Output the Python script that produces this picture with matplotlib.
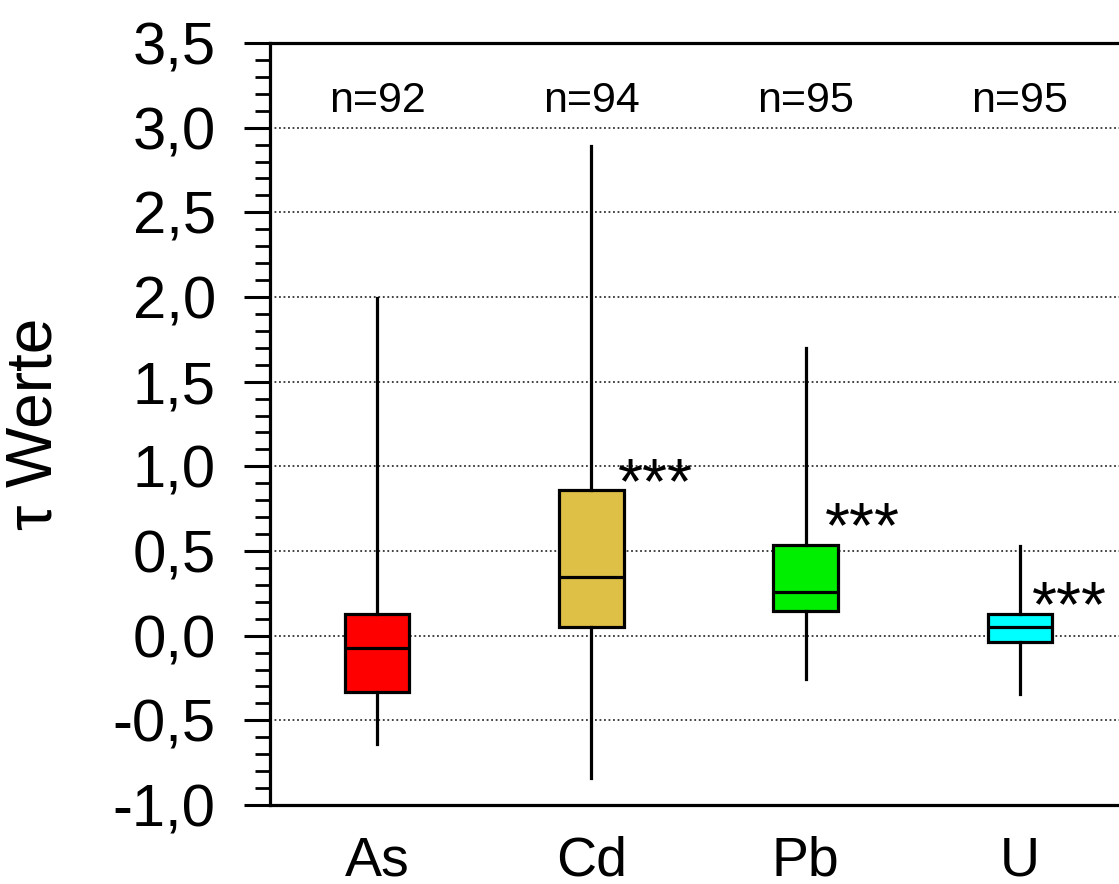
import matplotlib.pyplot as plt
from matplotlib.ticker import MultipleLocator, FuncFormatter

plt.rcParams['font.family'] = ['Liberation Sans', 'DejaVu Sans']

# data
elements = ['As', 'Cd', 'Pb', 'U']
counts = [92, 94, 95, 95]
whis_lo = [-0.637, -0.838, -0.253, -0.347]
q1 = [-0.331, 0.053, 0.148, -0.040]
median = [-0.075, 0.345, 0.256, 0.053]
q3 = [0.126, 0.858, 0.537, 0.126]
whis_hi = [1.994, 2.89, 1.70, 0.531]
significant = [False, True, True, True]
star_y = [0, 0.935, 0.675, 0.21]
colors = ['#FF0000', '#DFC046', '#00EE00', '#00FFFF']

fig = plt.figure(figsize=(11.19, 8.84), dpi=100)
# right side of the plot is cut off in the original
ax = fig.add_axes([270 / 1119, 1 - 805 / 884, (1127 - 270) / 1119, (805 - 43) / 884])

stats = []
for i, el in enumerate(elements):
    stats.append({'label': el, 'med': median[i], 'q1': q1[i], 'q3': q3[i],
                  'whislo': whis_lo[i], 'whishi': whis_hi[i], 'fliers': []})

pos = list(range(1, len(elements) + 1))
bp = ax.bxp(stats, positions=pos, widths=0.3, showcaps=False, showfliers=False,
            patch_artist=True,
            boxprops=dict(linewidth=2.3, edgecolor='black'),
            medianprops=dict(color='black', linewidth=2.3),
            whiskerprops=dict(color='black', linewidth=2.3))
for patch, c in zip(bp['boxes'], colors):
    patch.set_facecolor(c)
    patch.set_zorder(3)
for ln in bp['whiskers'] + bp['medians']:
    ln.set_zorder(3)

for p, n in zip(pos, counts):
    ax.text(p, 3.155, f'n={n}', ha='center', va='center', fontsize=31)

star_dx = [0, 0.126, 0.088, 0.056]
for p, s, sy, dx in zip(pos, significant, star_y, star_dx):
    if s:
        # asterisk glyph sits high in the em box, so place by baseline
        ax.text(p + dx, sy - 0.155, '***', ha='left', va='baseline', fontsize=46)

ax.set_xlim(0.5, 4.5)
ax.set_ylim(-1.0, 3.5)
ax.yaxis.set_major_locator(MultipleLocator(0.5))
ax.yaxis.set_minor_locator(MultipleLocator(0.1))
ax.yaxis.set_major_formatter(FuncFormatter(lambda v, _: f'{v:.1f}'.replace('.', ',').replace('-0,0', '0,0')))
ax.set_xticks(pos)
ax.set_xticklabels(elements, fontsize=40)
ax.tick_params(axis='x', length=0, pad=22)
ax.tick_params(axis='y', which='major', direction='out', length=19, width=2.2, labelsize=43, pad=20)
ax.tick_params(axis='y', which='minor', direction='out', length=11, width=2.0)
ax.grid(axis='y', which='major', linestyle=(0, (1, 1.5)), color='#333333', linewidth=1.3, zorder=0)
ax.set_axisbelow(True)
for side in ['left', 'bottom', 'top']:
    ax.spines[side].set_linewidth(2.3)
ax.spines['right'].set_visible(False)

ax.set_ylabel('τ Werte', fontsize=46, labelpad=35)

fig.savefig('out.png', dpi=100)
